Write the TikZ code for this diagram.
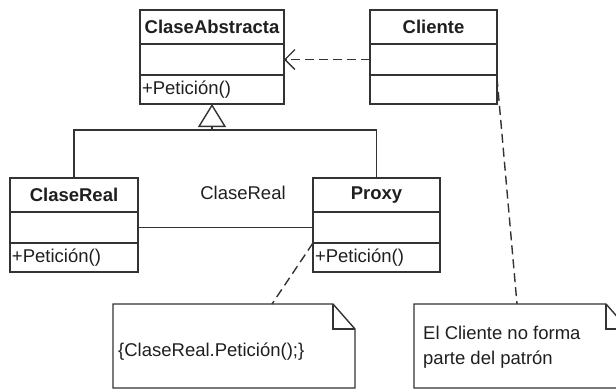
\documentclass[tikz,border=0pt]{standalone}
\usepackage{fontspec}
\setmainfont{Liberation Sans}
\usepackage{xcolor}
\usetikzlibrary{arrows.meta,positioning}
\newcommand\umlfont{\fontsize{18.5}{25}\selectfont}
\colorlet{umlline}{black!80}
\colorlet{umltext}{black!88}
\tikzset{
  uml/.style={draw=umlline, line width=1.4pt, text=umltext, inner sep=0pt, outer sep=0pt},
  classname/.style={uml, minimum width=#1, minimum height=34pt, font=\umlfont\bfseries},
  classattr/.style={uml, minimum width=#1, minimum height=31pt},
  classops/.style={uml, text width=#1, inner xsep=2pt, minimum height=29pt, align=left, font=\umlfont},
  notebox/.style={inner sep=0pt, outer sep=0pt},
  noteline/.style={draw=umlline, line width=1.4pt},
  notetext/.style={text=umltext, font=\umlfont, align=left, anchor=west, inner sep=0pt},
  depline/.style={umlline, line width=1.4pt, dash pattern=on 9pt off 5pt}
}

\begin{document}
\begin{tikzpicture}[x=1pt, y=-1pt]
  \useasboundingbox (0,0) rectangle (616,389);

  % Classes
  \node[classname=144pt, anchor=north west] (abs) at (140,10) {ClaseAbstracta};
  \node[classattr=144pt, below=0pt of abs] (absAttr) {};
  \node[classops=140pt, below=0pt of absAttr] (absOps) {+Petición()};

  \node[classname=127pt, anchor=north west] (cli) at (370,10) {Cliente};
  \node[classattr=127pt, below=0pt of cli] (cliAttr) {};
  \node[classattr=127pt, minimum height=29pt, below=0pt of cliAttr] (cliOps) {};

  \node[classname=128pt, anchor=north west] (real) at (10,178) {ClaseReal};
  \node[classattr=128pt, below=0pt of real] (realAttr) {};
  \node[classops=124pt, below=0pt of realAttr] (realOps) {+Petición()};

  \node[classname=127pt, anchor=north west] (proxy) at (313,178) {Proxy};
  \node[classattr=127pt, below=0pt of proxy] (proxyAttr) {};
  \node[classops=123pt, below=0pt of proxyAttr] (proxyOps) {+Petición()};

  % Notes
  \node[notebox, minimum width=242pt, minimum height=84pt, anchor=north west] (note1) at (113,304) {};
  \draw[noteline] (note1.north west) -- ([xshift=-22pt]note1.north east) -- ([yshift=-25pt]note1.north east)
    -- (note1.south east) -- (note1.south west) -- cycle;
  \draw[noteline] ([xshift=-22pt]note1.north east) |- ([yshift=-25pt]note1.north east);
  \node[notetext] (note1txt) at (118,352) {\{ClaseReal.Petición();\}};

  \node[notebox, minimum width=214pt, minimum height=84pt, anchor=north west] (note2) at (414,304) {};
  \draw[noteline] (note2.north west) -- ([xshift=-22pt]note2.north east) -- ([yshift=-25pt]note2.north east)
    -- (note2.south east) -- (note2.south west) -- cycle;
  \draw[noteline] ([xshift=-22pt]note2.north east) |- ([yshift=-25pt]note2.north east);
  \node[notetext] (note2txt) at (423,347) {El Cliente no forma\\parte del patrón};

  % Inheritance
  \coordinate (joint) at ([yshift=-26pt]absOps.south);
  \draw[umlline, line width=1.4pt] (real.north) |- (joint) -| (proxy.north);
  \draw[umlline, line width=1.4pt, -{Triangle[open, length=23pt, width=28pt]}] (joint) -- (absOps.south);

  % Association
  \draw[umlline, line width=1.4pt] (realAttr.east) -- node[pos=0.6, yshift=35pt, text=umltext, font=\umlfont] (assocLbl) {ClaseReal} (proxyAttr.west);

  % Dependency
  \draw[depline, -{Straight Barb[length=10pt, width=20pt]}] (cliAttr.west) -- (absAttr.east);

  % Note links
  \draw[depline] (proxyOps.north west) -- ([xshift=159pt]note1.north west);
  \draw[depline] ([yshift=-3pt]cliOps.north east) -- ([xshift=103pt]note2.north west);
\end{tikzpicture}
\end{document}
